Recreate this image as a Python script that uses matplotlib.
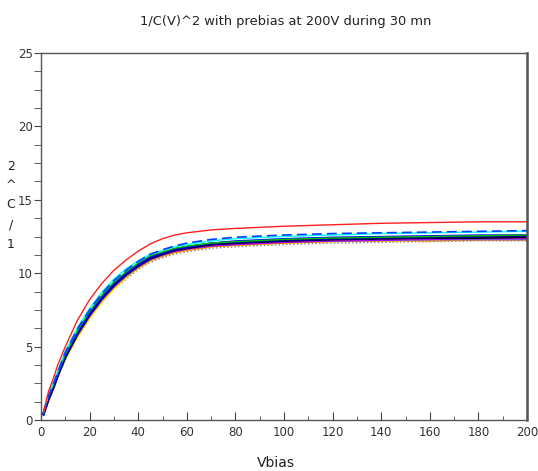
import matplotlib
matplotlib.use('Agg')
import matplotlib.pyplot as plt
from matplotlib.ticker import MultipleLocator

# bias voltage grid (V)
vbias = [1, 3, 5, 7, 10, 15, 20, 25, 30, 35, 40, 45, 50, 55, 60, 70, 80, 100, 120, 140, 160, 180, 200]

# 1/C^2 curves
red     = [0.5, 1.9, 2.8, 3.8, 5.0, 6.8, 8.2, 9.3, 10.2, 10.9, 11.5, 12.0, 12.35, 12.6, 12.75, 12.95, 13.05, 13.2, 13.3, 13.4, 13.45, 13.5, 13.5]
bluedsh = [0.5, 1.6, 2.4, 3.3, 4.6, 6.2, 7.5, 8.6, 9.5, 10.2, 10.8, 11.3, 11.6, 11.85, 12.05, 12.3, 12.45, 12.6, 12.7, 12.75, 12.8, 12.85, 12.9]
cyan    = [0.5, 1.7, 2.5, 3.4, 4.7, 6.3, 7.6, 8.7, 9.6, 10.3, 10.85, 11.3, 11.55, 11.8, 11.95, 12.2, 12.35, 12.5, 12.6, 12.7, 12.75, 12.8, 12.85]
green   = [0.5, 1.6, 2.4, 3.3, 4.5, 6.1, 7.4, 8.5, 9.4, 10.1, 10.7, 11.2, 11.45, 11.7, 11.85, 12.05, 12.15, 12.3, 12.4, 12.45, 12.5, 12.55, 12.6]
blue    = [0.4, 1.5, 2.3, 3.2, 4.4, 6.0, 7.3, 8.4, 9.3, 10.0, 10.6, 11.1, 11.4, 11.65, 11.8, 12.05, 12.2, 12.35, 12.45, 12.5, 12.55, 12.6, 12.6]
navy    = [0.4, 1.4, 2.2, 3.1, 4.3, 5.9, 7.2, 8.3, 9.2, 9.95, 10.55, 11.05, 11.35, 11.6, 11.75, 12.0, 12.1, 12.25, 12.35, 12.4, 12.45, 12.5, 12.55]
black   = [0.4, 1.4, 2.2, 3.1, 4.3, 5.9, 7.2, 8.3, 9.2, 9.9, 10.5, 11.0, 11.3, 11.55, 11.7, 11.95, 12.05, 12.2, 12.3, 12.35, 12.4, 12.4, 12.45]
magenta = [0.5, 1.5, 2.3, 3.2, 4.4, 6.0, 7.2, 8.3, 9.2, 9.9, 10.5, 11.0, 11.3, 11.5, 11.65, 11.9, 12.0, 12.15, 12.25, 12.3, 12.35, 12.4, 12.4]
purple  = [0.5, 1.5, 2.2, 3.1, 4.3, 5.9, 7.1, 8.2, 9.1, 9.85, 10.45, 10.95, 11.25, 11.5, 11.65, 11.85, 11.95, 12.1, 12.2, 12.25, 12.3, 12.35, 12.35]
yellow  = [0.3, 1.2, 2.0, 2.9, 4.1, 5.6, 6.9, 8.0, 8.9, 9.7, 10.35, 10.85, 11.2, 11.4, 11.55, 11.8, 11.9, 12.05, 12.15, 12.2, 12.25, 12.3, 12.3]
orange  = [0.4, 1.3, 2.1, 3.0, 4.2, 5.7, 7.0, 8.1, 9.0, 9.75, 10.35, 10.85, 11.15, 11.4, 11.55, 11.8, 11.9, 12.05, 12.15, 12.2, 12.2, 12.25, 12.25]
grey    = [0.4, 1.3, 2.0, 2.9, 4.1, 5.6, 6.9, 8.0, 8.9, 9.6, 10.25, 10.75, 11.05, 11.3, 11.45, 11.7, 11.8, 11.95, 12.05, 12.1, 12.15, 12.2, 12.2]
lavender = [0.4, 1.4, 2.2, 3.1, 4.3, 5.8, 7.1, 8.2, 9.1, 9.85, 10.45, 10.95, 11.25, 11.5, 11.65, 11.9, 12.0, 12.15, 12.2, 12.25, 12.3, 12.3, 12.3]

plt.rcParams['font.family'] = ['DejaVu Sans']

fig = plt.figure(figsize=(5.38, 4.71), dpi=100)
ax = fig.add_axes([41/538, 1-420/471, (527-41)/538, (420-53)/471])

ax.plot(vbias, grey, color='#808080', lw=1, ls=':')
ax.plot(vbias, yellow, color='#ffff00', lw=1)
ax.plot(vbias, orange, color='#ff8000', lw=1)
ax.plot(vbias, lavender, color='#8080c0', lw=1.5)
ax.plot(vbias, purple, color='#8000ff', lw=1)
ax.plot(vbias, magenta, color='#ff00ff', lw=1)
ax.plot(vbias, black, color='#000000', lw=1.5)
ax.plot(vbias, navy, color='#000090', lw=2)
ax.plot(vbias, blue, color='#0000ff', lw=1)
ax.plot(vbias, green, color='#00c000', lw=1)
ax.plot(vbias, cyan, color='#00ffff', lw=1)
ax.plot(vbias, bluedsh, color='#0040ff', lw=1.2, ls='--', dashes=(6, 3))
ax.plot(vbias, red, color='#ff2020', lw=1)

ax.set_xlim(0, 200)
ax.set_ylim(0, 25)
ax.xaxis.set_major_locator(MultipleLocator(20))
ax.xaxis.set_minor_locator(MultipleLocator(10))
ax.yaxis.set_major_locator(MultipleLocator(5))
ax.yaxis.set_minor_locator(MultipleLocator(1.25))
ax.tick_params(axis='x', which='major', direction='in', length=6, color='#444444', labelsize=8.5, labelcolor='#333333', pad=4)
ax.tick_params(axis='x', which='minor', direction='in', length=3, color='#444444')
ax.tick_params(axis='y', which='both', direction='out', length=5, color='#444444', labelsize=8.5, labelcolor='#333333', pad=1)
for s in ax.spines.values():
    s.set_color('#555555')
    s.set_linewidth(1)
ax.spines['right'].set_linewidth(1.8)

fig.text(286/538, 1-22/471, '1/C(V)^2 with prebias at 200V during 30 mn', ha='center', va='center', fontsize=9.4, color='#222222')
fig.text(276/538, 1-463/471, 'Vbias', ha='center', va='center', fontsize=10, color='#222222')
fig.text(11/538, 1-205/471, '2\n^\nC\n/\n1', ha='center', va='center', fontsize=9, color='#222222', linespacing=1.65)

fig.savefig('out.png', dpi=100)
